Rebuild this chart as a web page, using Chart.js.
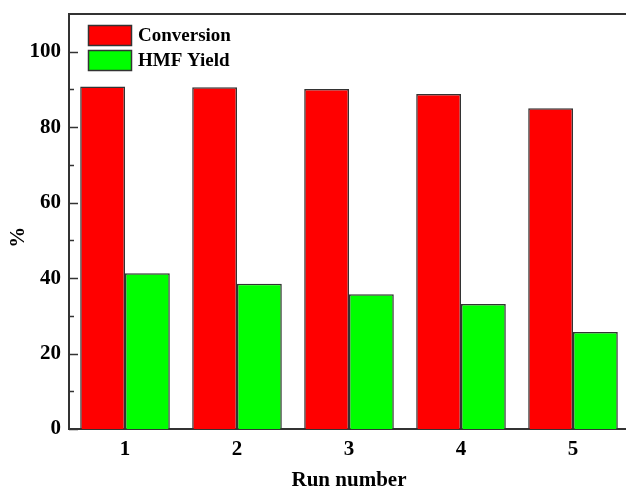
<!DOCTYPE html>
<html>
<head>
<meta charset="utf-8">
<script src="https://cdn.jsdelivr.net/npm/chart.js@4"></script>
<style>
  html, body { margin: 0; padding: 0; background: #fff; overflow: hidden; }
  #chart { display: block; }
</style>
</head>
<body>
<canvas id="chart" width="640" height="491"></canvas>
<script>
const runs = ['1', '2', '3', '4', '5'];
const conversion = [90.8, 90.6, 90.1, 88.8, 85.0];
const hmfYield = [41.3, 38.5, 35.7, 33.1, 25.7];
const yTicks = [0, 20, 40, 60, 80, 100];
const yMinorTicks = [10, 30, 50, 70, 90];

const axisColor = '#333333';
const serif = "'Liberation Serif', 'Times New Roman', serif";

// frame top line, inward tick marks and the boxed legend inside the plot
const decorations = {
  id: 'decorations',
  afterDatasetsDraw(chart) {
    const { ctx, chartArea } = chart;
    const y = chart.scales.y;
    ctx.save();
    ctx.strokeStyle = axisColor;
    ctx.lineWidth = 2;
    ctx.beginPath();
    ctx.moveTo(chartArea.left - 1, chartArea.top);
    ctx.lineTo(chartArea.right + 1, chartArea.top);
    ctx.stroke();

    ctx.lineWidth = 1.5;
    yTicks.forEach(v => {
      const py = Math.round(y.getPixelForValue(v)) + 0.5;
      ctx.beginPath();
      ctx.moveTo(chartArea.left, py);
      ctx.lineTo(chartArea.left + 9, py);
      ctx.stroke();
    });
    yMinorTicks.forEach(v => {
      const py = Math.round(y.getPixelForValue(v)) + 0.5;
      ctx.beginPath();
      ctx.moveTo(chartArea.left, py);
      ctx.lineTo(chartArea.left + 5, py);
      ctx.stroke();
    });

    // legend
    const bx = chartArea.left + 19;
    let by = chartArea.top + 11;
    ctx.font = 'bold 19px ' + serif;
    ctx.textBaseline = 'middle';
    ctx.textAlign = 'left';
    chart.data.datasets.forEach(ds => {
      ctx.fillStyle = ds.backgroundColor;
      ctx.fillRect(bx, by, 44, 21);
      ctx.strokeStyle = axisColor;
      ctx.lineWidth = 1.5;
      ctx.strokeRect(bx + 0.5, by + 0.5, 43, 20);
      ctx.fillStyle = '#000';
      ctx.fillText(ds.label, bx + 50, by + 11);
      by += 25;
    });
    ctx.restore();
  }
};

new Chart(document.getElementById('chart'), {
  type: 'bar',
  data: {
    labels: runs,
    datasets: [
      {
        label: 'Conversion',
        data: conversion,
        backgroundColor: '#ff0000',
        borderColor: axisColor,
        borderWidth: 1.5
      },
      {
        label: 'HMF Yield',
        data: hmfYield,
        backgroundColor: '#00ff00',
        borderColor: axisColor,
        borderWidth: 1.5
      }
    ]
  },
  options: {
    responsive: false,
    animation: false,
    layout: { padding: { left: 0, top: 14, right: 11, bottom: 0 } },
    datasets: {
      bar: { categoryPercentage: 0.8, barPercentage: 1.0 }
    },
    plugins: {
      legend: { display: false },
      tooltip: { enabled: false }
    },
    scales: {
      x: {
        grid: { display: false, drawTicks: false },
        border: { display: true, color: axisColor, width: 2 },
        ticks: {
          color: '#000',
          padding: 8,
          font: { family: serif, size: 21, weight: 'bold' }
        },
        title: {
          display: true,
          text: 'Run number',
          color: '#000',
          padding: { top: 0, bottom: 0 },
          font: { family: serif, size: 21, weight: 'bold', lineHeight: 1 }
        },
        afterFit: scale => {
          scale.height = 62;
          scale.paddingLeft = 0;
          scale.paddingRight = 0;
        }
      },
      y: {
        min: 0,
        max: 110,
        grid: { display: false, drawTicks: false },
        border: { display: true, color: axisColor, width: 2 },
        afterBuildTicks: scale => { scale.ticks = yTicks.map(v => ({ value: v })); },
        ticks: {
          color: '#000',
          padding: 8,
          font: { family: serif, size: 21, weight: 'bold' }
        },
        title: {
          display: true,
          text: '%\u00a0\u00a0\u00a0\u00a0\u00a0\u00a0',
          color: '#000',
          padding: { top: 8, bottom: 0 },
          font: { family: serif, size: 21, weight: 'bold', lineHeight: 1 }
        },
        afterFit: scale => {
          scale.width = 69;
          scale.paddingTop = 0;
          scale.paddingBottom = 0;
        }
      }
    }
  },
  plugins: [decorations]
});
</script>
</body>
</html>
